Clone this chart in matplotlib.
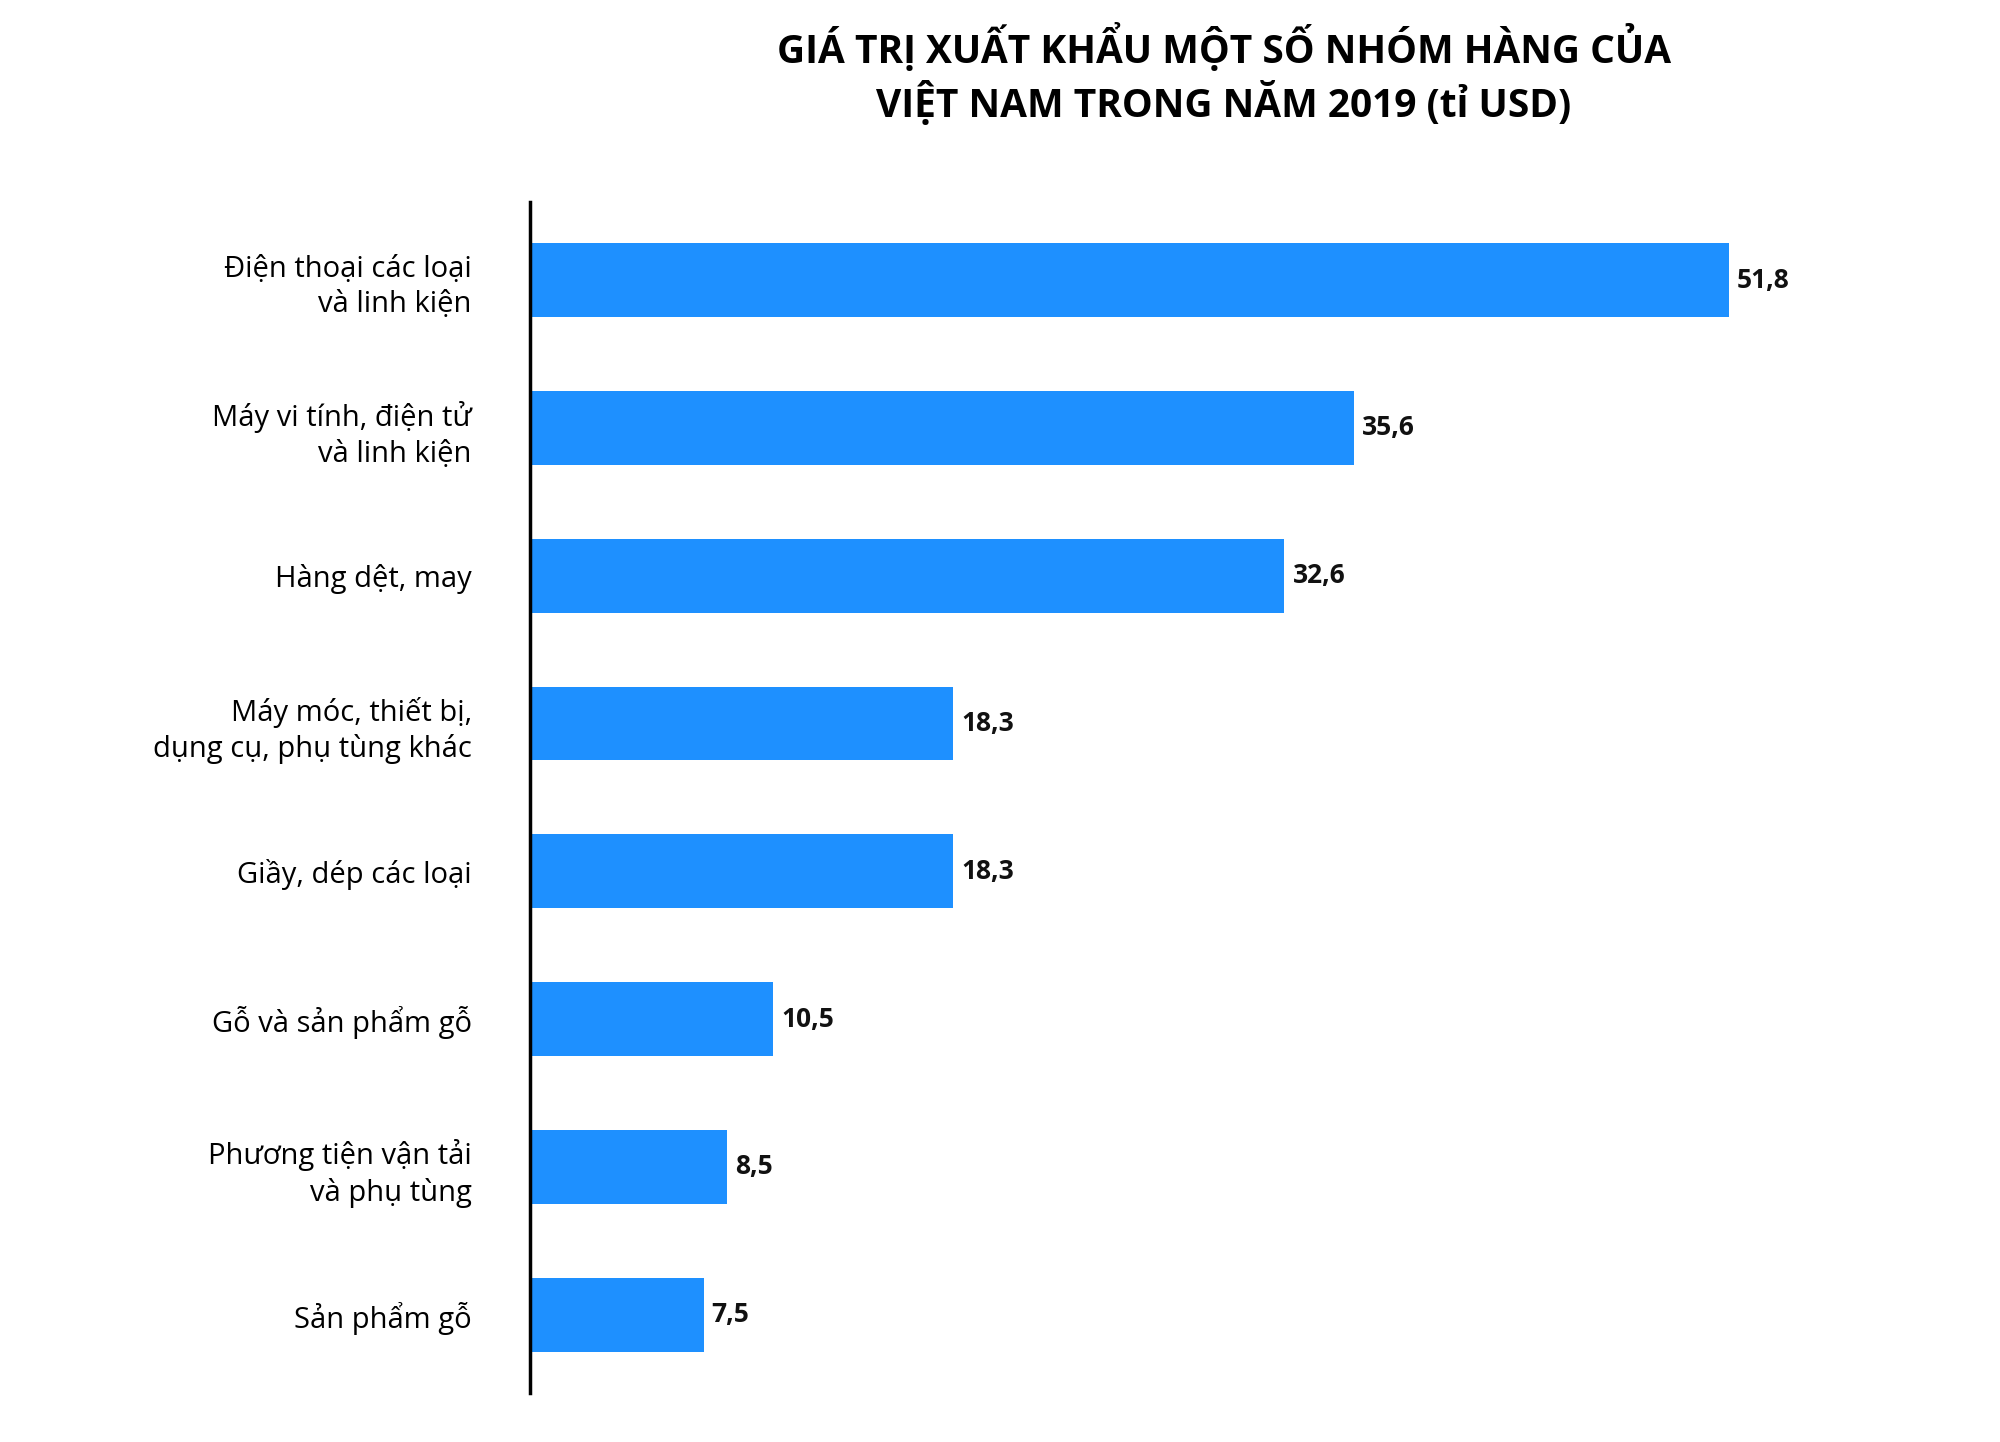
import matplotlib
matplotlib.use("Agg")
import matplotlib.pyplot as plt

categories = ["Điện thoại các loại\nvà linh kiện", "Máy vi tính, điện tử\nvà linh kiện", "Hàng dệt, may",
              "Máy móc, thiết bị,\ndụng cụ, phụ tùng khác", "Giầy, dép các loại", "Gỗ và sản phẩm gỗ",
              "Phương tiện vận tải\nvà phụ tùng", "Sản phẩm gỗ"]
values = [51.8, 35.6, 32.6, 18.3, 18.3, 10.5, 8.5, 7.5]
value_labels = ["51,8", "35,6", "32,6", "18,3", "18,3", "10,5", "8,5", "7,5"]

plt.rcParams['font.family'] = ['Open Sans', 'DejaVu Sans']
fig = plt.figure(figsize=(20, 14.42), dpi=100)
ax = fig.add_axes([0.265, 0.034, 0.685, 0.826])
y = list(range(len(values)))
ax.barh(y, values, height=0.5, color="#1E90FF")
ax.set_ylim(7.53, -0.53)
ax.set_xlim(0, 59.2)
for yi, v, t in zip(y, values, value_labels):
    ax.text(v + 0.35, yi, t, va="center", ha="left", fontsize=19, fontweight="bold", color="#111111")
ax.set_yticks(y)
ax.set_yticklabels(categories, fontsize=21, linespacing=1.3)
ax.tick_params(axis="y", length=0, pad=42)
ax.set_xticks([])
for s in ["top", "right", "bottom"]:
    ax.spines[s].set_visible(False)
ax.spines["left"].set_linewidth(2.5)
fig.text(0.612, 0.948, "GIÁ TRỊ XUẤT KHẨU MỘT SỐ NHÓM HÀNG CỦA\nVIỆT NAM TRONG NĂM 2019 (tỉ USD)",
         ha="center", va="center", fontsize=28, fontweight="bold", linespacing=1.25)
fig.savefig("out.png", dpi=100)
